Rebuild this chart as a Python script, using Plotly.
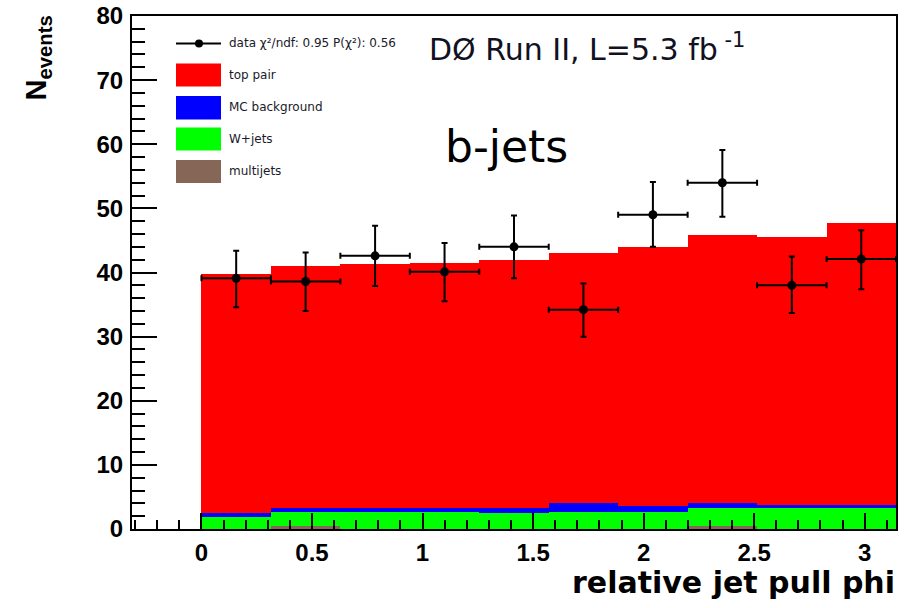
import math
import plotly.graph_objects as go

# ---- data ----
bin_width = math.pi / 10
bin_centers = [bin_width * (i + 0.5) for i in range(10)]

multijets = [0.0, 0.4, 0.0, 0.0, 0.0, 0.0, 0.0, 0.5, 0.0, 0.0]
wjets = [1.9, 2.3, 2.7, 2.7, 2.45, 2.7, 2.7, 2.7, 3.2, 3.2]
mc_background = [0.6, 0.5, 0.5, 0.5, 0.75, 1.3, 0.9, 0.8, 0.55, 0.55]
top_pair = [37.3, 37.8, 38.1, 38.3, 38.7, 39.0, 40.3, 41.9, 41.85, 43.95]

data_values = [39.1, 38.6, 42.6, 40.1, 44.0, 34.2, 49.0, 54.0, 38.0, 42.1]
data_err_up = [4.3, 4.5, 4.7, 4.5, 4.9, 4.1, 5.1, 5.1, 4.5, 4.5]
data_err_dn = [4.5, 4.6, 4.7, 4.6, 4.9, 4.2, 5.0, 5.3, 4.3, 4.7]

legend_labels = ["data \u03c7\u00b2/ndf: 0.95 P(\u03c7\u00b2): 0.56", "top pair",
                 "MC background", "W+jets", "multijets"]
x_tickvals = [0, 0.5, 1, 1.5, 2, 2.5, 3]
x_ticktext = ["0", "0.5", "1", "1.5", "2", "2.5", "3"]
y_tickvals = [0, 10, 20, 30, 40, 50, 60, 70, 80]

# ---- styles ----
C_TOP = "#ff0000"
C_MC = "#0000ff"
C_W = "#00ff00"
C_MJ = "#866656"

fig = go.Figure()
for name, vals, col in [("multijets", multijets, C_MJ), ("W+jets", wjets, C_W),
                        ("MC background", mc_background, C_MC), ("top pair", top_pair, C_TOP)]:
    fig.add_trace(go.Bar(x=bin_centers, y=vals, width=bin_width, name=name,
                         marker=dict(color=col, line=dict(width=0)), showlegend=False))

fig.add_trace(go.Scatter(
    x=bin_centers, y=data_values, mode="markers", showlegend=False,
    marker=dict(color="black", size=9, symbol="circle"),
    error_y=dict(type="data", symmetric=False, array=data_err_up, arrayminus=data_err_dn,
                 color="black", thickness=2, width=3),
    error_x=dict(type="constant", value=bin_width / 2, color="black", thickness=2, width=3),
))

# plot area in pixels: x 132..896, y 16..529
L, R, T, B = 132, 896, 16, 529
W, H = R - L, B - T
def px(x):
    return (x - L) / W
def py(y):
    return (B - y) / H

shapes = []
annotations = []
# legend
lx0, lx1 = 176, 221
shapes.append(dict(type="line", xref="paper", yref="paper", x0=px(lx0), x1=px(lx1),
                   y0=py(43.5), y1=py(43.5), line=dict(color="black", width=2)))
shapes.append(dict(type="circle", xref="paper", yref="paper", x0=px(195), x1=px(203),
                   y0=py(47.5), y1=py(39.5), fillcolor="black", line=dict(color="black", width=0)))
box_rows = [(63.5, 86.5, C_TOP), (96, 119.5, C_MC), (127.5, 150.5, C_W), (160, 183, C_MJ)]
for y0, y1, col in box_rows:
    shapes.append(dict(type="rect", xref="paper", yref="paper", x0=px(lx0), x1=px(lx1),
                       y0=py(y1), y1=py(y0), fillcolor=col, line=dict(width=0)))
label_y = [43.5, 75, 107.5, 139, 171.5]
for lab, yy in zip(legend_labels, label_y):
    annotations.append(dict(text=lab, xref="paper", yref="paper", x=px(227), y=py(yy),
                            xanchor="left", yanchor="middle", showarrow=False,
                            font=dict(family="DejaVu Sans", size=12, color="#1a1a2a")))

annotations.append(dict(text="D\u00d8 Run II, L=5.3 fb<sup> -1</sup>", xref="paper", yref="paper",
                        x=px(427), y=py(47), xanchor="left", yanchor="middle", showarrow=False,
                        font=dict(family="DejaVu Sans", size=30, color="#111122")))
annotations.append(dict(text="b-jets", xref="paper", yref="paper",
                        x=px(443), y=py(146), xanchor="left", yanchor="middle", showarrow=False,
                        font=dict(family="DejaVu Sans", size=44, color="black")))
annotations.append(dict(text="<b>relative jet pull phi</b>", xref="paper", yref="paper",
                        x=px(897), y=py(582), xanchor="right", yanchor="middle", showarrow=False,
                        font=dict(family="DejaVu Sans", size=30, color="black")))
annotations.append(dict(text="<b>N<sub>events</sub></b>", xref="paper", yref="paper",
                        x=px(38), y=py(14), xanchor="center", yanchor="top", textangle=-90,
                        showarrow=False,
                        font=dict(family="Liberation Sans", size=29, color="black")))

axis_font = dict(family="Liberation Sans", size=24, color="black")
fig.update_layout(
    width=914, height=608,
    margin=dict(l=L, r=914 - R, t=T, b=608 - B, autoexpand=False),
    paper_bgcolor="white", plot_bgcolor="white",
    barmode="stack", bargap=0,
    shapes=shapes, annotations=annotations,
    xaxis=dict(range=[-math.pi / 10, math.pi], tickmode="array", tickvals=x_tickvals,
               ticktext=["<b>%s</b>" % t for t in x_ticktext], ticks="inside", ticklen=16,
               tickwidth=2, tickcolor="black", showline=True, linewidth=2, linecolor="black",
               mirror=True, showgrid=False, zeroline=False, layer="above traces",
               tickfont=axis_font, ticklabelstandoff=1, automargin=False,
               minor=dict(ticks="inside", dtick=0.1, tick0=0, ticklen=9, tickwidth=2,
                          tickcolor="black", showgrid=False)),
    yaxis=dict(range=[0, 80], tickmode="array", tickvals=y_tickvals,
               ticktext=["<b>%d</b>" % v for v in y_tickvals], ticks="inside", ticklen=25,
               tickwidth=2, tickcolor="black", showline=True, linewidth=2, linecolor="black",
               mirror=True, showgrid=False, zeroline=False, layer="above traces",
               tickfont=axis_font, ticklabelstandoff=2, automargin=False,
               minor=dict(ticks="inside", dtick=2, tick0=0, ticklen=13, tickwidth=2,
                          tickcolor="black", showgrid=False)),
)

fig.write_html("out.html", config={"displayModeBar": False},
               post_script="document.body.style.margin='0';")
